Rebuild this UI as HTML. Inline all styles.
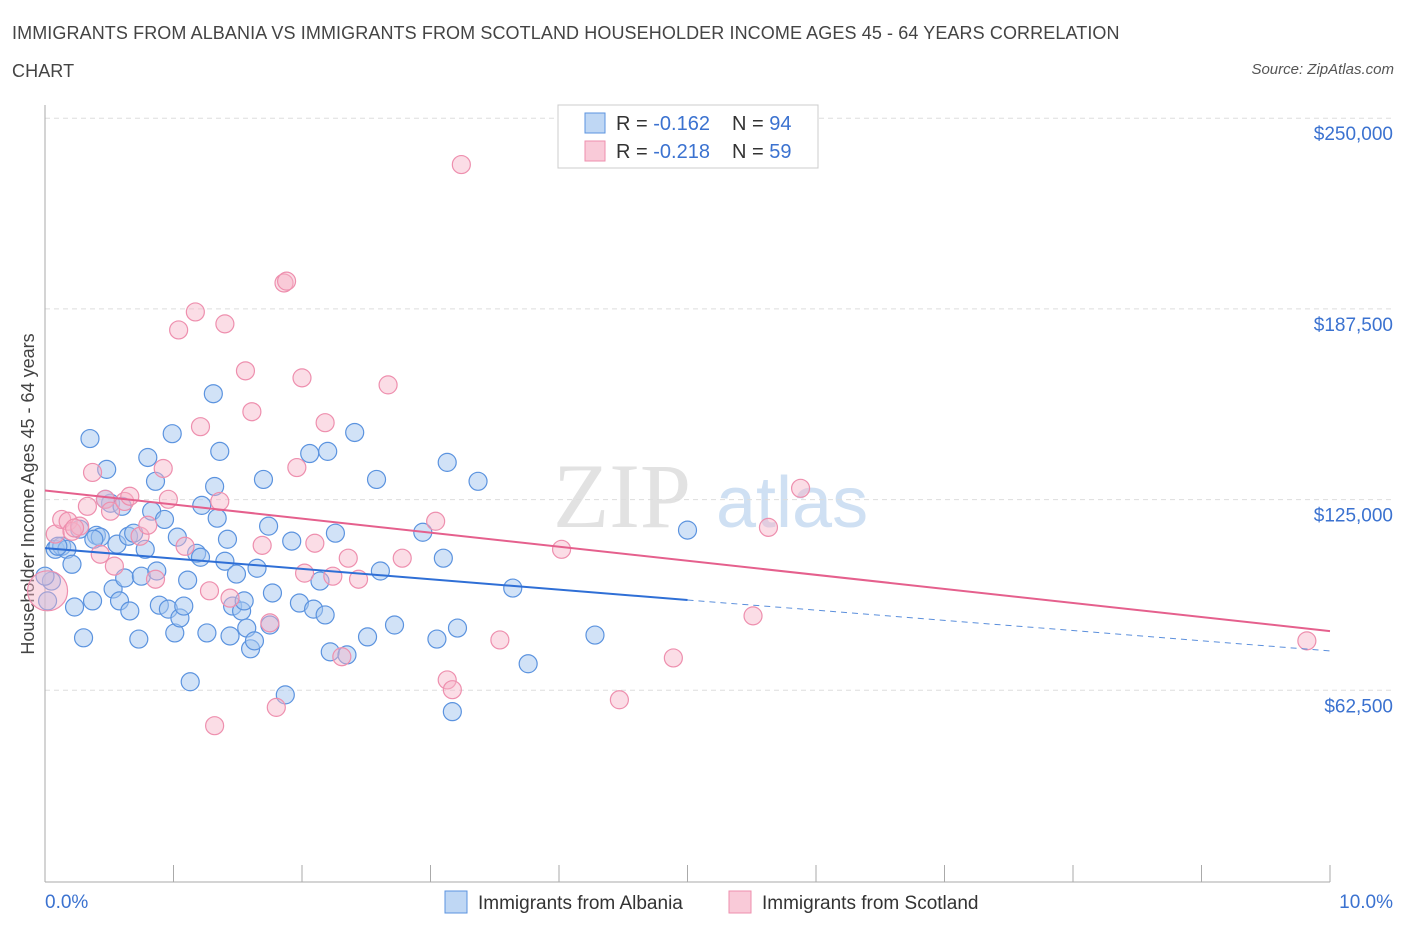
<!DOCTYPE html>
<html><head><meta charset="utf-8">
<style>
body{margin:0;background:#fff;font-family:"Liberation Sans",sans-serif;}
#wrap{position:relative;width:1406px;height:930px;overflow:hidden;}
.title{position:absolute;left:12px;top:14px;font-size:18px;color:#444;line-height:38px;letter-spacing:0.1px;}
.src{position:absolute;right:12px;top:61px;font-size:15px;color:#555;font-style:italic;}
</style></head><body>
<div id="wrap">
<div class="title">IMMIGRANTS FROM ALBANIA VS IMMIGRANTS FROM SCOTLAND HOUSEHOLDER INCOME AGES 45 - 64 YEARS CORRELATION<br>CHART</div>
<div class="src">Source: ZipAtlas.com</div>
<svg id="chart" width="1406" height="930" style="position:absolute;left:0;top:0"></svg>
</div>
<script>
const yTicks=[62500,125000,187500,250000];
const yTickLabels=["$62,500","$125,000","$187,500","$250,000"];
const xTickLabels=["0.0%","10.0%"];
const albaniaX=[0.05,0.02,0.08,0.13,0.17,0.21,0.23,0.30,0.35,0.40,0.43,0.48,0.51,0.53,0.56,0.58,0.62,0.65,0.66,0.69,0.73,0.75,0.78,0.80,0.83,0.86,0.87,0.89,0.93,0.96,0.99,1.01,1.03,1.05,1.08,1.11,1.13,1.18,1.21,1.22,1.26,1.31,1.32,1.34,1.36,1.40,1.42,1.44,1.46,1.49,1.53,1.55,1.57,1.60,1.63,1.65,1.70,1.74,1.75,1.77,1.87,1.92,1.98,2.06,2.09,2.14,2.18,2.20,2.22,2.26,2.35,2.41,2.51,2.58,2.61,2.72,2.94,3.05,3.10,3.13,3.17,3.21,3.37,3.64,3.76,4.28,5.00,0.00,0.10,0.27,0.38,0.47,0.60,0.37];
const albaniaY=[98.3,91.8,108.7,109.7,108.7,103.8,89.8,79.7,145.0,113.3,112.7,134.9,123.8,95.7,110.4,91.8,99.3,113.0,88.5,114.0,79.3,99.9,108.7,138.8,121.2,131.0,101.6,90.4,118.5,89.1,146.6,81.3,112.7,86.2,90.1,98.6,65.3,107.4,106.1,123.1,81.3,159.7,129.3,118.9,140.8,104.8,112.0,80.3,90.1,100.6,88.5,91.8,82.9,76.1,78.7,102.5,131.6,116.3,83.9,94.4,61.0,111.4,91.1,140.1,89.1,98.3,87.2,140.8,75.1,114.0,74.1,147.0,80.0,131.6,101.6,83.9,114.3,79.3,105.8,137.2,55.5,82.9,131.0,96.0,71.2,80.6,115.0,99.9,109.7,115.3,112.0,125.1,122.8,91.8];
const scotlandX=[0.02,0.08,0.13,0.18,0.21,0.27,0.33,0.37,0.43,0.47,0.51,0.54,0.62,0.66,0.74,0.80,0.86,0.92,0.96,1.04,1.09,1.17,1.21,1.28,1.32,1.36,1.40,1.44,1.56,1.61,1.69,1.75,1.80,1.86,1.88,1.96,2.00,2.02,2.10,2.18,2.24,2.31,2.36,2.44,2.67,2.78,3.04,3.13,3.17,3.24,3.54,4.02,4.47,4.89,5.51,5.63,5.88,9.82,0.23];
const scotlandY=[95.1,113.7,118.5,117.9,114.6,116.3,122.8,133.9,107.1,125.1,121.2,103.2,124.4,126.1,113.0,116.6,98.9,135.2,125.1,180.6,109.7,186.5,148.9,95.1,50.9,124.4,182.6,92.7,167.2,153.8,110.0,84.6,56.9,196.0,196.6,135.5,164.9,100.9,110.7,150.2,99.9,73.5,105.8,98.9,162.6,105.8,117.9,65.9,62.7,234.8,79.0,108.7,59.4,73.1,86.9,115.9,128.7,78.7,115.7];
const albaniaTrend=[109.1,92.1,75.4]; // at x=0, 5, 10
const scotlandTrend=[128.0,81.9]; // at x=0, 10
const X0=45,X1=1330,Y0=881,PXK=190.7/62.5;
function sx(v){return X0+(X1-X0)*v/10;}
function sy(k){return Y0-k*PXK;}
const svg=document.getElementById('chart');const NS='http://www.w3.org/2000/svg';
function mk(t,a,p){const e=document.createElementNS(NS,t);for(const k in a)e.setAttribute(k,a[k]);(p||svg).appendChild(e);return e;}
let wm=mk('text',{x:553,y:527,'font-size':92,fill:'#e2e2e2','font-family':'Liberation Serif, serif'});wm.textContent='ZIP';


let wm2=mk('text',{x:716,y:527,'font-size':72,fill:'#cfe0f3','font-family':'Liberation Sans, sans-serif'});wm2.textContent='atlas';


yTicks.forEach((v,i)=>{const y=sy(v/1000);
const g=mk('line',{x1:X0,x2:1395,y1:y,y2:y,stroke:'#dddddd','stroke-dasharray':'5,4'});


const t=mk('text',{x:1393,y:y+22,'text-anchor':'end','font-size':19,fill:'#3b72d0'});t.textContent=yTickLabels[i];

});
let ax=mk('line',{x1:X0,x2:X0,y1:105,y2:882,stroke:'#aaa'});


let bx=mk('line',{x1:X0,x2:X1,y1:882,y2:882,stroke:'#aaa'});


for(let i=0;i<=10;i++){const tk=mk('line',{x1:sx(i),x2:sx(i),y1:865,y2:882,stroke:'#aaa'});

}
let xl0=mk('text',{x:45,y:908,'font-size':19,fill:'#3b72d0'});xl0.textContent=xTickLabels[0];


let xl1=mk('text',{x:1393,y:908,'text-anchor':'end','font-size':19,fill:'#3b72d0'});xl1.textContent=xTickLabels[1];


let yt=mk('text',{x:34,y:494,'font-size':18,fill:'#444','text-anchor':'middle',transform:'rotate(-90 34 494)'});yt.textContent='Householder Income Ages 45 - 64 years';


albaniaX.forEach((x,i)=>{const c=mk('circle',{cx:sx(x),cy:sy(albaniaY[i]),r:9,fill:'rgba(164,198,240,0.5)',stroke:'#5b93df','stroke-width':1.2});

});
scotlandX.forEach((x,i)=>{const c=mk('circle',{cx:sx(x),cy:sy(scotlandY[i]),r:i===0?20:9,fill:'rgba(247,180,200,0.45)',stroke:'#ee8fae','stroke-width':1.2});

});
let t1=mk('line',{x1:sx(0),y1:sy(albaniaTrend[0]),x2:sx(5),y2:sy(albaniaTrend[1]),stroke:'#2f6fd6','stroke-width':2});


let t2=mk('line',{x1:sx(5),y1:sy(albaniaTrend[1]),x2:sx(10),y2:sy(albaniaTrend[2]),stroke:'#5b8fdc','stroke-width':1,'stroke-dasharray':'6,5'});


let t3=mk('line',{x1:sx(0),y1:sy(scotlandTrend[0]),x2:sx(10),y2:sy(scotlandTrend[1]),stroke:'#e5608d','stroke-width':2});


let lg=mk('rect',{x:558,y:105,width:260,height:63,fill:'#fff',stroke:'#ccc'});


[['rgba(164,198,240,0.7)','#5b93df','-0.162','94',123],['rgba(247,180,200,0.7)','#ee8fae','-0.218','59',151]].forEach(r=>{
const s=mk('rect',{x:585,y:r[4]-10,width:20,height:20,fill:r[0],stroke:r[1]});


const t=mk('text',{x:616,y:r[4]+7,'font-size':20,fill:'#333'});
t.innerHTML='R = <tspan fill="#3b72d0">'+r[2]+'</tspan><tspan x="732">N = </tspan><tspan fill="#3b72d0">'+r[3]+'</tspan>';

});
[[445,'rgba(164,198,240,0.7)','#5b93df','Immigrants from Albania'],[729,'rgba(247,180,200,0.7)','#ee8fae','Immigrants from Scotland']].forEach(r=>{
const s=mk('rect',{x:r[0],y:891,width:22,height:22,fill:r[1],stroke:r[2]});


const t=mk('text',{x:r[0]+33,y:909,'font-size':19,fill:'#333'});t.textContent=r[3];

});
</script>
</body></html>
